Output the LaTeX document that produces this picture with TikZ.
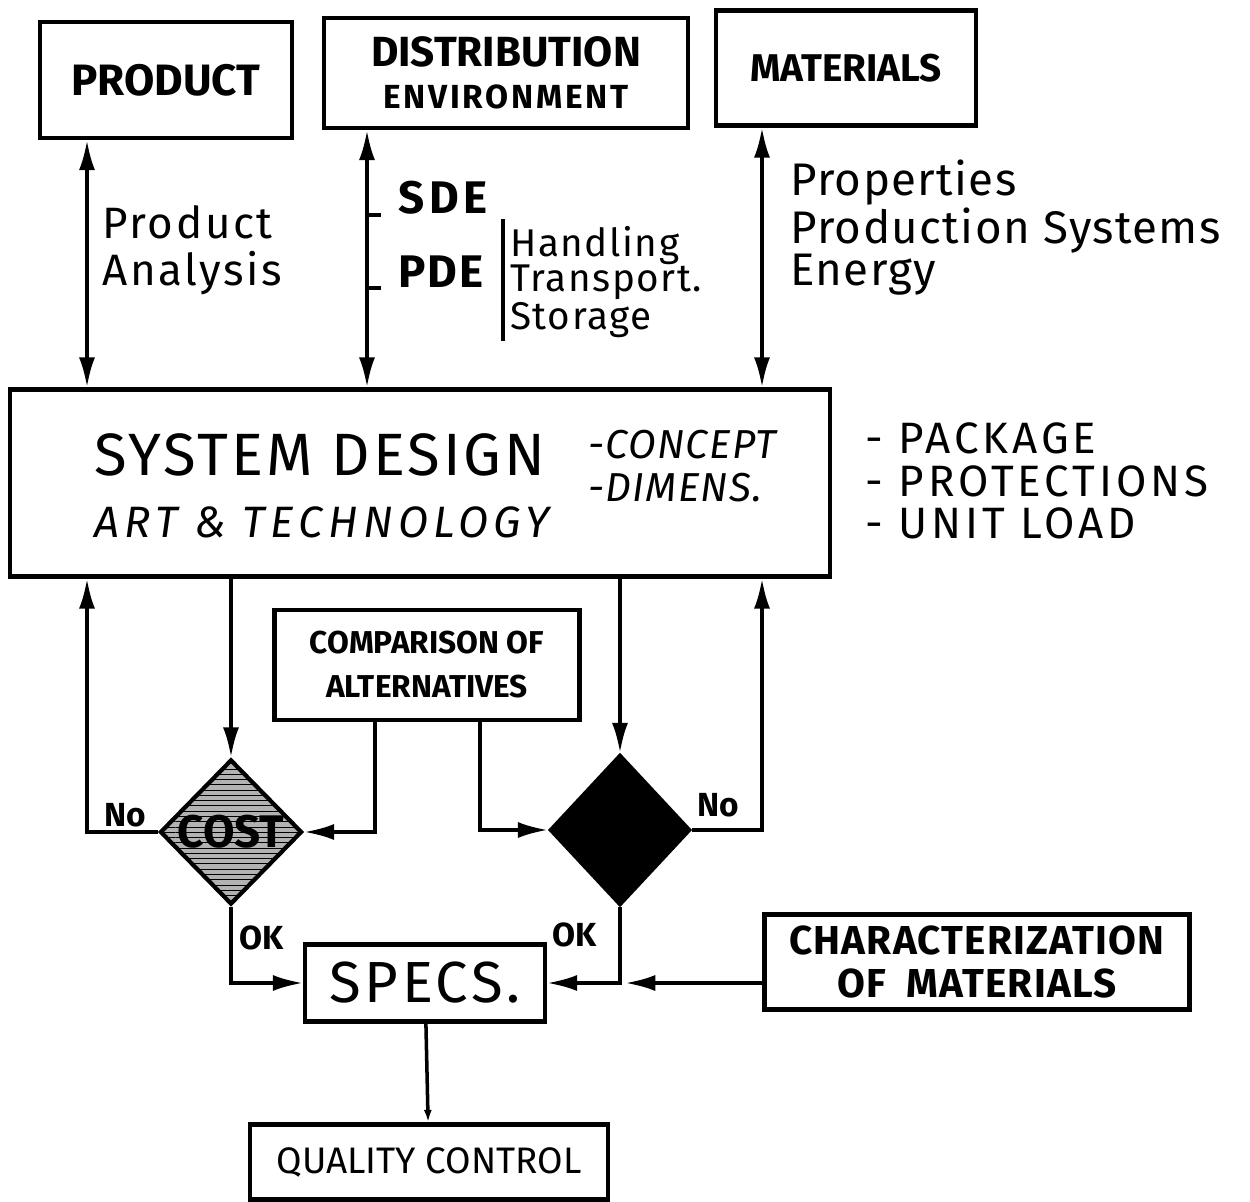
\documentclass[tikz,border=0pt]{standalone}
\usepackage{fontspec}
\setmainfont{Fira Sans}
\usetikzlibrary{arrows.meta,positioning,shapes.geometric,patterns}

\newcommand{\wide}[1]{\addfontfeature{LetterSpace=#1}}

\begin{document}
\begin{tikzpicture}[x=0.02cm, y=-0.02cm, >={Latex[length=6mm,width=3.2mm]},
  box/.style={draw, line width=2.4pt, inner sep=0pt, align=center},
  flow/.style={line width=2pt},
  choice/.style={draw, diamond, line width=2.4pt, inner sep=0pt, aspect=1, minimum width=2.84cm, minimum height=2.9cm},
  hand/.style={font=\fontsize{25}{29}\selectfont, align=left, inner sep=0pt, anchor=west},
  caps/.style={font=\fontsize{25}{30}\selectfont\bfseries}]
  \useasboundingbox (0,0) rectangle (1250,1202);

  % columns of the vertical links
  \coordinate (c1) at (87,0);
  \coordinate (c2) at (367,0);
  \coordinate (c3) at (762,0);

  % input boxes
  \node[box, caps, minimum width=5.04cm, minimum height=2.32cm] (prod) at (166,80) {PRODUCT};
  \node[box, font=\fontsize{24}{30}\selectfont\bfseries, minimum width=7.28cm, minimum height=2.2cm] (dist) at (506,73)
    {DISTRIBUTION\\[-6pt]{\fontsize{19}{22}\selectfont\wide{8}ENVIRONMENT}};
  \node[box, caps, minimum width=5.2cm, minimum height=2.3cm] (mat) at (846,68) {\fontsize{22}{26}\selectfont MATERIALS};

  % central design box
  \node[box, minimum width=16.4cm, minimum height=3.74cm] (sysd) at (420,483) {};
  \node[font=\fontsize{34}{38}\selectfont\wide{5}] (sdtitle) at (320,455) {SYSTEM DESIGN};
  \node[font=\fontsize{25}{28}\selectfont\itshape\wide{12}] (art) at (322,522) {ART \& TECHNOLOGY};
  \node[hand, font=\fontsize{23}{24}\selectfont\itshape\wide{3}] (concept) at (588,466) {-CONCEPT\\-DIMENS.};
  \node[hand, font=\fontsize{25}{24}\selectfont\wide{9}] (pack) at (865,481) {- PACKAGE\\- PROTECTIONS\\- UNIT LOAD};

  \draw[flow, <->] (prod.south -| c1) -- (sysd.north -| c1);
  \draw[flow, <->] (dist.south -| c2) -- (sysd.north -| c2);
  \draw[flow, <->] (mat.south -| c3) -- (sysd.north -| c3);

  \node[hand, font=\fontsize{25}{27}\selectfont\wide{6}] (pan) at (102,250) {Product\\Analysis};
  \node[hand, font=\fontsize{26}{26}\selectfont\bfseries\wide{10}] (sde) at (398,198) {SDE};
  \node[hand, font=\fontsize{26}{26}\selectfont\bfseries\wide{4}] (pde) at (398,272) {PDE};
  \draw[flow] (c2 |- sde.south) -- +(14,0);
  \draw[flow] (c2 |- pde.south) -- +(14,0);
  \node[hand, font=\fontsize{22}{20}\selectfont\wide{4}] (hts) at (510,282) {Handling\\Transport.\\Storage};
  \draw[line width=1.8pt] ([xshift=-4pt,yshift=4pt]hts.north west) -- ([xshift=-4pt,yshift=-2pt]hts.south west);
  \node[hand, font=\fontsize{26}{23}\selectfont\wide{3}] (prop) at (790,228) {Properties\\Production Systems\\Energy};

  % decisions
  \node[box, font=\fontsize{18}{25}\selectfont\bfseries, minimum width=6.1cm, minimum height=2.2cm] (comp) at (427,665) {COMPARISON OF\\ALTERNATIVES};
  \node[choice, preaction={fill=black!30}, pattern=horizontal lines,
    label={[font=\fontsize{26}{28}\selectfont\bfseries]center:COST}] (cost) at (231,832) {};
  \node[choice, fill=black, minimum width=2.8cm, minimum height=3.0cm] (chk) at (620,830) {};

  \draw[flow, ->] (cost.north |- sysd.south) -- (cost.north);
  \draw[flow, ->] (chk.north |- sysd.south) -- (chk.north);
  \draw[flow, ->] ([xshift=-1.04cm]comp.south) |- (cost.east);
  \draw[flow, ->] ([xshift=1.06cm]comp.south) |- (chk.west);
  \draw[flow, ->] (cost.west) -| (sysd.south -| c1);
  \draw[flow, ->] (chk.east) -| (sysd.south -| c3);
  \node[font=\fontsize{19}{20}\selectfont\bfseries] (no1) at (125,815) {No};
  \node[font=\fontsize{19}{20}\selectfont\bfseries] (no2) at (718,805) {No};

  % specifications
  \node[box, font=\fontsize{33}{36}\selectfont\wide{6}, minimum width=4.8cm, minimum height=1.54cm] (specs) at (425,983) {SPECS.};
  \node[box, font=\fontsize{23}{25}\selectfont\bfseries\wide{3}, minimum width=8.5cm, minimum height=1.9cm] (charm) at (977,962) {CHARACTERIZATION\\OF\enspace MATERIALS};
  \node[box, font=\fontsize{21}{24}\selectfont, minimum width=7.16cm, minimum height=1.5cm] (qc) at (429,1162) {QUALITY CONTROL};

  \draw[flow, ->] (cost.south) |- (specs.west);
  \draw[flow, ->] (chk.south) |- (specs.east);
  \draw[flow, ->] (charm.west |- specs.east) -- ([xshift=3pt]chk.south |- specs.east);
  \draw[flow, -{Latex[length=2.5mm,width=1.6mm]}] (specs) -- (qc);
  \node[font=\fontsize{19}{20}\selectfont\bfseries] (ok1) at (262,938) {OK};
  \node[font=\fontsize{19}{20}\selectfont\bfseries] (ok2) at (575,935) {OK};
\end{tikzpicture}
\end{document}
